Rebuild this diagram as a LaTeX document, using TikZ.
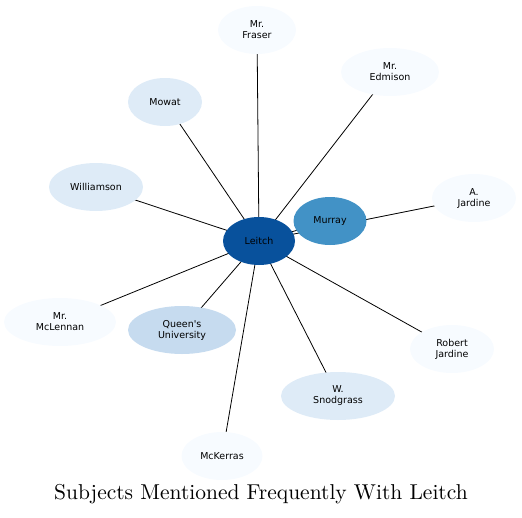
\documentclass[tikz,border=0pt]{standalone}
\usepackage{fontspec}
\usepackage{tikz}
\usetikzlibrary{
positioning,
shapes.geometric,
backgrounds
}
\newfontfamily\nodefont{DejaVu Sans}
\newfontfamily\titlefont{lmroman10-regular}[Extension=.otf]
\definecolor{BlueDeep}{HTML}{08519C}
\definecolor{BlueMid}{HTML}{4292C6}
\definecolor{BlueSoft}{HTML}{C6DBEF}
\definecolor{BlueLight}{HTML}{DEEBF7}
\definecolor{BluePale}{HTML}{F7FBFF}

\begin{document}
\begin{tikzpicture}[x=1pt,y=-1pt, every node/.style={align=center}, person/.style={ellipse, draw=none, minimum height=48pt, inner sep=1pt, font=\nodefont\fontsize{9.5}{11}\selectfont}, link/.style={line width=0.8pt, black}]
        \useasboundingbox (0,0) rectangle (522,517);
        \node[person, fill=BlueDeep, minimum width=72pt] (leitch) at (259,241) {Leitch};
        \node[person, fill=BlueMid, minimum width=73pt] (murray) at (330,221) {Murray};
        \node[person, fill=BluePale, minimum width=78pt] (fraser) at (257,30) {Mr.\\Fraser};
        \node[person, fill=BluePale, minimum width=98pt] (edmison) at (390,72) {Mr.\\Edmison};
        \node[person, fill=BlueLight, minimum width=74pt] (mowat) at (165,102) {Mowat};
        \node[person, fill=BlueLight, minimum width=94pt] (williamson) at (96,187) {Williamson};
        \node[person, fill=BluePale, minimum width=84pt] (ajardine) at (474,198) {A.\\Jardine};
        \node[person, fill=BluePale, minimum width=112pt] (mclennan) at (60,322) {Mr.\\McLennan};
        \node[person, fill=BlueSoft, minimum width=108pt] (queens) at (182,330) {Queen's\\University};
        \node[person, fill=BluePale, minimum width=84pt] (rjardine) at (452,349) {Robert\\Jardine};
        \node[person, fill=BlueLight, minimum width=114pt] (snodgrass) at (338,396) {W.\\Snodgrass};
        \node[person, fill=BluePale, minimum width=81pt] (mckerras) at (222,456) {McKerras};
        \begin{scope}[on background layer]
        \foreach \other in {murray,fraser,edmison,mowat,williamson,ajardine,mclennan,queens,rjardine,snodgrass,mckerras}
            \draw[link] (leitch.center) -- (\other.center);
        \end{scope}
        \node[font=\titlefont\fontsize{21.5}{25}\selectfont] (title) at (261,494) {Subjects Mentioned Frequently With Leitch};
    \end{tikzpicture}
\end{document}
